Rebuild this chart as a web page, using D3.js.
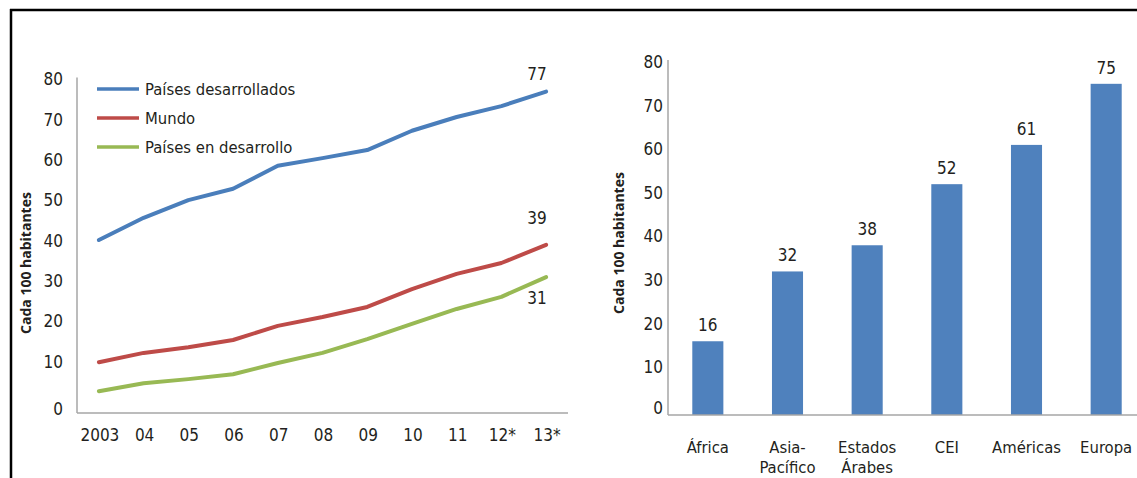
<!DOCTYPE html>
<html>
<head>
<meta charset="utf-8">
<script src="https://cdn.jsdelivr.net/npm/d3@7/dist/d3.min.js"></script>
<style>
  html, body { margin: 0; padding: 0; background: #fff; }
  svg { display: block; }
  .cond { font-family: "Liberation Sans Narrow", "DejaVu Sans Condensed", "Roboto Condensed", sans-serif; font-stretch: condensed; fill: #231f20; }
  .ttl { font-family: "Open Sans", "DejaVu Sans", sans-serif; font-weight: 700; fill: #231f20; }
</style>
</head>
<body>
<svg id="chart" width="1137" height="478"></svg>
<script>
// Left panel: Internet users per 100 inhabitants, 2003–2013
const years = ["2003", "04", "05", "06", "07", "08", "09", "10", "11", "12*", "13*"];
const desarrollados = [40.2, 45.7, 50.1, 52.9, 58.6, 60.5, 62.5, 67.3, 70.7, 73.4, 77];
const mundo = [9.9, 12.2, 13.6, 15.4, 18.9, 21.1, 23.6, 28.0, 31.8, 34.5, 39];
const enDesarrollo = [2.7, 4.7, 5.7, 6.9, 9.7, 12.2, 15.6, 19.4, 23.1, 26.1, 31];
const seriesNames = ["Países desarrollados", "Mundo", "Países en desarrollo"];
const lineTicks = [0, 10, 20, 30, 40, 50, 60, 70, 80];

// Right panel: Internet users per 100 inhabitants by region, 2013
const regions = [["África"], ["Asia-", "Pacífico"], ["Estados", "Árabes"], ["CEI"], ["Américas"], ["Europa"]];
const regionValues = [16, 32, 38, 52, 61, 75];
const barTicks = [0, 10, 20, 30, 40, 50, 60, 70, 80];

const axisTitle = "Cada 100 habitantes";

const svg = d3.select("#chart");
const axisColor = "#a6a6a6";
const colors = ["#4a7ebb", "#be4b48", "#98b954"];

// frame
svg.append("line").attr("x1", 10).attr("x2", 1137).attr("y1", 10).attr("y2", 10)
  .attr("stroke", "#000").attr("stroke-width", 2.5);
svg.append("line").attr("x1", 11).attr("x2", 11).attr("y1", 9).attr("y2", 478)
  .attr("stroke", "#000").attr("stroke-width", 2.5);

// ---------- line chart ----------
const lx = d3.scalePoint().domain(years).range([77, 568]).padding(0.49);
const ly = d3.scaleLinear().domain([-2.7, 80]).range([413, 79.5]);

const left = svg.append("g");
left.append("line").attr("x1", 77).attr("x2", 77).attr("y1", ly(80) - 2).attr("y2", ly(-2.7))
  .attr("stroke", axisColor).attr("stroke-width", 1.5);
left.append("line").attr("x1", 77).attr("x2", 568).attr("y1", ly(-2.7)).attr("y2", ly(-2.7))
  .attr("stroke", axisColor).attr("stroke-width", 1.5);

left.selectAll("text.ytick").data(lineTicks).join("text")
  .attr("class", "cond ytick")
  .attr("x", 63).attr("y", d => ly(d)).attr("dy", d => d === 0 ? "0.75em" : "0.35em")
  .attr("text-anchor", "end").attr("font-size", 17)
  .text(d => d);

left.selectAll("text.xtick").data(years).join("text")
  .attr("class", "cond xtick")
  .attr("x", d => lx(d) + 1).attr("y", 441)
  .attr("text-anchor", "middle").attr("font-size", 17)
  .text(d => d);

left.append("text").attr("class", "ttl")
  .attr("transform", `translate(31,${263}) rotate(-90)`)
  .attr("text-anchor", "middle").attr("font-size", 14)
  .text(axisTitle);

const allSeries = [desarrollados, mundo, enDesarrollo];
const line = d3.line().x((d, i) => lx(years[i])).y(d => ly(d)).curve(d3.curveLinear);

left.selectAll("path.series").data(allSeries).join("path")
  .attr("class", "series")
  .attr("d", line)
  .attr("fill", "none")
  .attr("stroke", (d, i) => colors[i])
  .attr("stroke-width", 4)
  .attr("stroke-linejoin", "round")
  .attr("stroke-linecap", "round");

// end-value labels (above for the first two, below for the last)
const endDy = [-12, -21, 27];
left.selectAll("text.endval").data(allSeries).join("text")
  .attr("class", "cond endval")
  .attr("x", lx(years[years.length - 1]) - 9)
  .attr("y", (d, i) => ly(d[d.length - 1]) + endDy[i])
  .attr("text-anchor", "middle").attr("font-size", 17)
  .text(d => d3.format("d")(d[d.length - 1]));

// legend
const legend = left.selectAll("g.leg").data(seriesNames).join("g")
  .attr("class", "leg")
  .attr("transform", (d, i) => `translate(97,${89 + i * 29})`);
legend.append("line").attr("x1", 0).attr("x2", 42).attr("y1", 0).attr("y2", 0)
  .attr("stroke", (d, i) => colors[i]).attr("stroke-width", 3.5);
legend.append("text").attr("class", "cond")
  .attr("x", 48).attr("y", 0).attr("dy", "0.35em")
  .attr("font-size", 16.5)
  .text(d => d);

// ---------- bar chart ----------
const bx = d3.scaleBand().domain(regions.map(r => r.join(" "))).range([668, 1146])
  .paddingInner(0.61).paddingOuter(0.305);
const by = d3.scaleLinear().domain([-0.9, 80]).range([415, 62]);

const right = svg.append("g");
right.selectAll("rect.bar").data(regionValues).join("rect")
  .attr("class", "bar")
  .attr("x", (d, i) => bx(regions[i].join(" ")))
  .attr("width", bx.bandwidth())
  .attr("y", d => by(d))
  .attr("height", d => by(-0.9) - by(d))
  .attr("fill", "#4f81bd");

right.append("line").attr("x1", 668).attr("x2", 668).attr("y1", by(80) - 2).attr("y2", by(-0.9))
  .attr("stroke", axisColor).attr("stroke-width", 1.5);
right.append("line").attr("x1", 668).attr("x2", 1137).attr("y1", by(-0.9)).attr("y2", by(-0.9))
  .attr("stroke", axisColor).attr("stroke-width", 1.5);

right.selectAll("text.ytick").data(barTicks).join("text")
  .attr("class", "cond ytick")
  .attr("x", 663).attr("y", d => by(d)).attr("dy", d => d === 0 ? "0.2em" : "0.35em")
  .attr("text-anchor", "end").attr("font-size", 17)
  .text(d => d);

right.selectAll("text.val").data(regionValues).join("text")
  .attr("class", "cond val")
  .attr("x", (d, i) => bx(regions[i].join(" ")) + bx.bandwidth() / 2)
  .attr("y", d => by(d) - 10)
  .attr("text-anchor", "middle").attr("font-size", 17)
  .text(d => d);

const cat = right.selectAll("text.cat").data(regions).join("text")
  .attr("class", "cond cat")
  .attr("x", d => bx(d.join(" ")) + bx.bandwidth() / 2)
  .attr("y", 453)
  .attr("text-anchor", "middle").attr("font-size", 16.5);
cat.selectAll("tspan").data(d => d).join("tspan")
  .attr("x", function() { return d3.select(this.parentNode).attr("x"); })
  .attr("dy", (d, i) => i === 0 ? 0 : 20)
  .text(d => d);

right.append("text").attr("class", "ttl")
  .attr("transform", `translate(624,${243}) rotate(-90)`)
  .attr("text-anchor", "middle").attr("font-size", 14)
  .text(axisTitle);
</script>
</body>
</html>
